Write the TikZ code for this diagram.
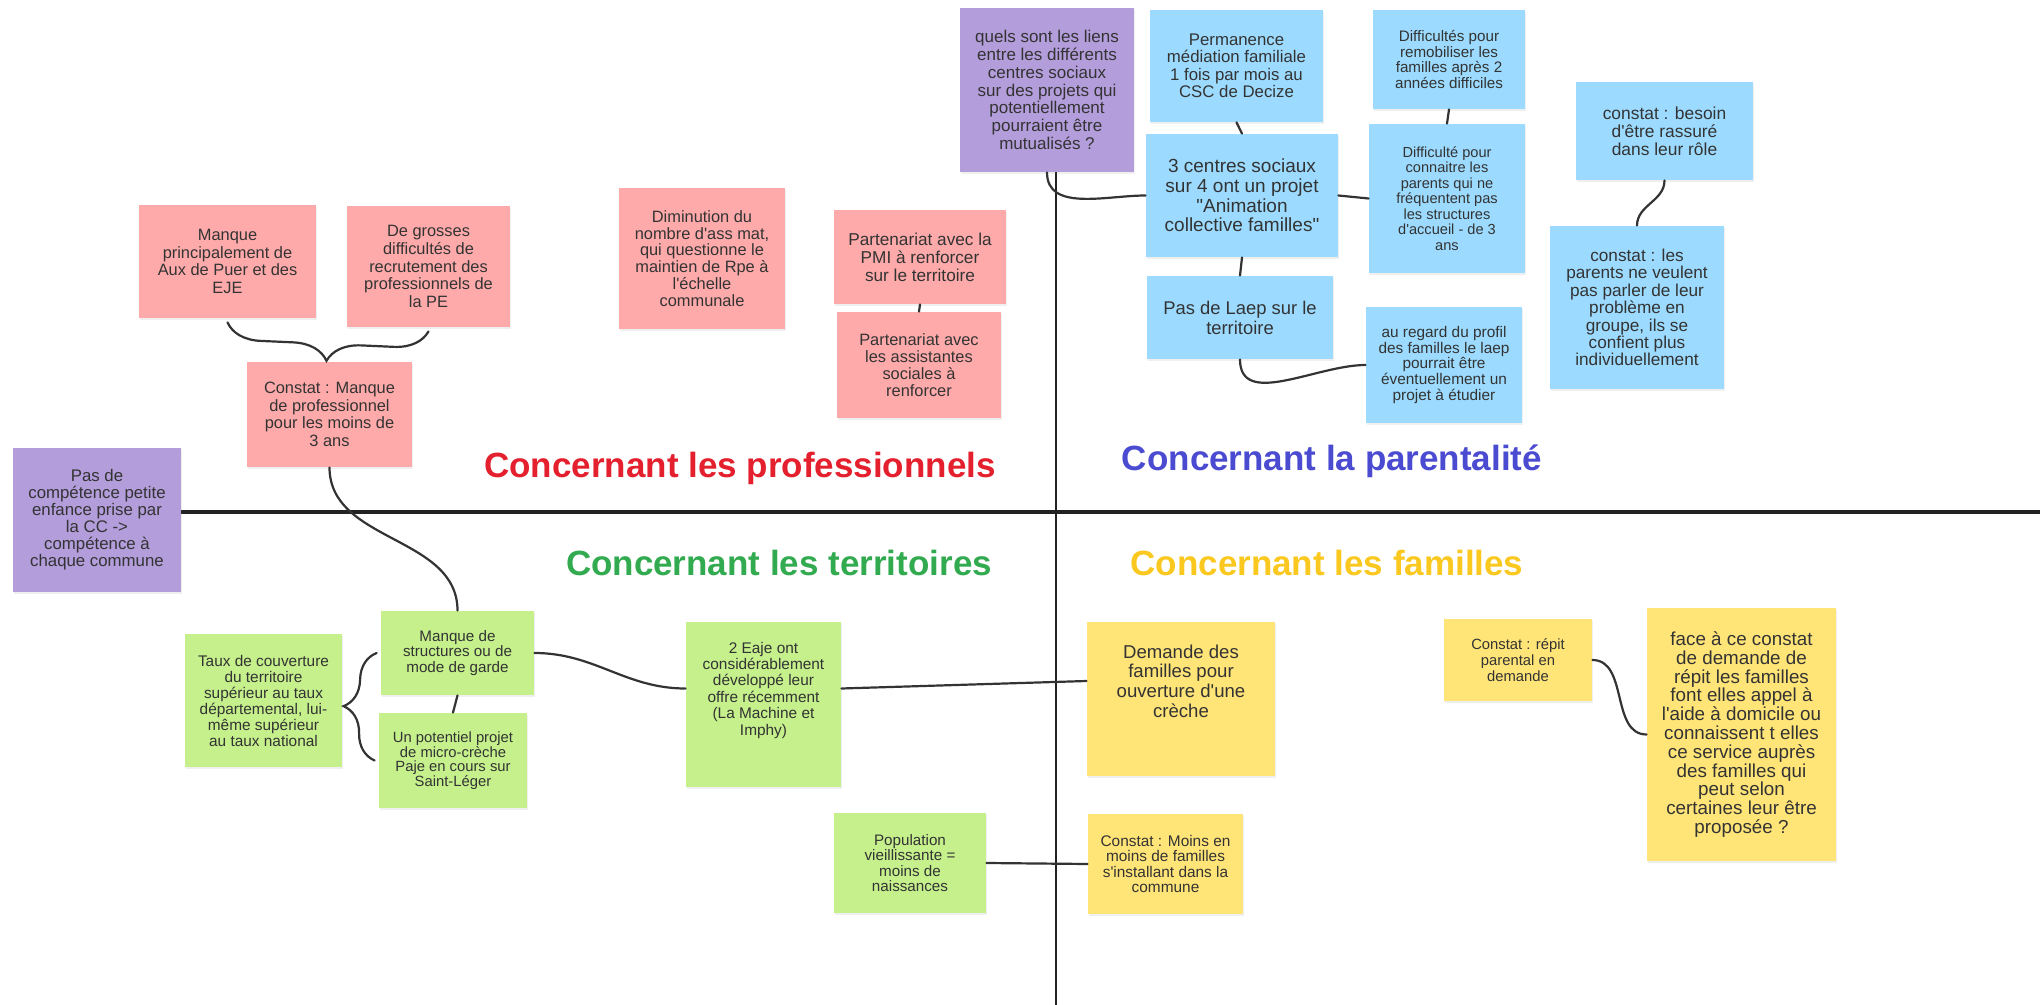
\documentclass[tikz,border=0pt]{standalone}
\usepackage{fontspec}
\setmainfont{Liberation Sans}[Ligatures=TeXOff]
\usetikzlibrary{decorations.pathreplacing,shadows}

\definecolor{pinknote}{HTML}{FFAAAA}
\definecolor{purplenote}{HTML}{B39DDB}
\definecolor{bluenote}{HTML}{9CDBFF}
\definecolor{greennote}{HTML}{C5F08C}
\definecolor{yellownote}{HTML}{FFE478}
\definecolor{inkgray}{HTML}{333333}
\definecolor{axisgray}{HTML}{222222}
\definecolor{headred}{HTML}{E5202E}
\definecolor{headblue}{HTML}{4B4BD2}
\definecolor{headgreen}{HTML}{32AA50}
\definecolor{headyellow}{HTML}{FAC81E}

\begin{document}
\begin{tikzpicture}[x=0.5pt,y=-0.5pt,
	note/.style={inner sep=0pt, align=center, text=inkgray,
		drop shadow={shadow xshift=0.5pt, shadow yshift=-0.8pt, opacity=0.12}},
	pinkbox/.style={note, fill=pinknote},
	purplebox/.style={note, fill=purplenote},
	bluebox/.style={note, fill=bluenote},
	greenbox/.style={note, fill=greennote},
	yellowbox/.style={note, fill=yellownote},
	fs/.style n args={2}{font=\fontsize{#1}{#2}\selectfont},
	link/.style={draw=inkgray, line width=1.1pt, line cap=round},
	brc/.style={link, decorate, decoration={brace, amplitude=#1}},
	head/.style={anchor=base, font=\fontsize{17.5}{21}\selectfont\bfseries}]

	\fill[white] (0,0) rectangle (2040,1005);
	\useasboundingbox (0,0) rectangle (2040,1005);

	% Draw axes
	\draw[line width=1.3pt, draw=axisgray] (1056,10) -- (1056,1005);
	\draw[line width=1.6pt, draw=axisgray] (100,512) -- (2040,512);

	% Quarter titles
	\node[head, text=headred] (hprof) at (740,477.5) {Concernant les professionnels};
	\node[head, text=headblue] (hpar) at (1332,471) {Concernant la parentalité};
	\node[head, text=headgreen] (hterr) at (779,575) {Concernant les territoires};
	\node[head, text=headyellow] (hfam) at (1327,575) {Concernant les familles};

	% Professionnels
	\node[pinkbox, fs={8.2}{8.8}, minimum width=88.5pt, minimum height=56.5pt] (m1) at (227.5,261.5) {Manque\\principalement de\\Aux de Puer et des\\EJE};
	\node[pinkbox, fs={8.2}{8.8}, minimum width=81.5pt, minimum height=60.5pt] (m2) at (428.5,266.5) {De grosses\\difficultés de\\recrutement des\\professionnels de\\la PE};
	\node[pinkbox, fs={8.2}{8.8}, minimum width=82.5pt, minimum height=52.5pt] (cm) at (329.5,414.5) {Constat : Manque\\de professionnel\\pour les moins de\\3 ans};
	\node[pinkbox, fs={8.2}{8.4}, minimum width=83pt, minimum height=70.5pt] (dim) at (702,258.5) {Diminution du\\nombre d'ass mat,\\qui questionne le\\maintien de Rpe à\\l'échelle\\communale};
	\node[pinkbox, fs={8.6}{9}, minimum width=86pt, minimum height=47pt] (pmi) at (920,257) {Partenariat avec la\\PMI à renforcer\\sur le territoire};
	\node[pinkbox, fs={8.2}{8.4}, minimum width=82pt, minimum height=53pt] (ass) at (919,365) {Partenariat avec\\les assistantes\\sociales à\\renforcer};

	% Purple questions
	\node[purplebox, fs={8.5}{8.9}, minimum width=87pt, minimum height=82pt] (liens) at (1047,90) {quels sont les liens\\entre les différents\\centres sociaux\\sur des projets qui\\potentiellement\\pourraient être\\mutualisés ?};
	\node[purplebox, fs={8.4}{8.5}, minimum width=84pt, minimum height=72pt] (cc) at (97,520) {Pas de\\compétence petite\\enfance prise par\\la CC ->\\compétence à\\chaque commune};

	% Parentalite
	\node[bluebox, fs={8.4}{8.7}, minimum width=86.5pt, minimum height=56pt] (perm) at (1236.5,66) {Permanence\\médiation familiale\\1 fois par mois au\\CSC de Decize};
	\node[bluebox, fs={7.6}{7.7}, minimum width=76pt, minimum height=49.5pt] (remob) at (1449,59.5) {Difficultés pour\\remobiliser les\\familles après 2\\années difficiles};
	\node[bluebox, fs={9.5}{9.8}, minimum width=96pt, minimum height=61.5pt] (acf) at (1242,195.5) {3 centres sociaux\\sur 4 ont un projet\\"Animation\\collective familles"};
	\node[bluebox, fs={7.3}{7.8}, minimum width=78pt, minimum height=74.5pt] (conn) at (1447,198.5) {Difficulté pour\\connaitre les\\parents qui ne\\fréquentent pas\\les structures\\d'accueil - de 3\\ans};
	\node[bluebox, fs={9.2}{10}, minimum width=93pt, minimum height=41.5pt] (laep) at (1240,317.5) {Pas de Laep sur le\\territoire};
	\node[bluebox, fs={7.7}{7.8}, minimum width=78pt, minimum height=58pt] (regard) at (1444,365) {au regard du profil\\des familles le laep\\pourrait être\\éventuellement un\\projet à étudier};
	\node[bluebox, fs={8.7}{9}, minimum width=88.5pt, minimum height=49pt] (rass) at (1664.5,131) {constat : besoin\\d'être rassuré\\dans leur rôle};
	\node[bluebox, fs={8.6}{8.7}, minimum width=87pt, minimum height=81.5pt] (indiv) at (1637,307.5) {constat : les\\parents ne veulent\\pas parler de leur\\problème en\\groupe, ils se\\confient plus\\individuellement};

	% Territoires
	\node[greenbox, fs={7.6}{7.6}, minimum width=76.5pt, minimum height=42pt] (struct) at (457.5,653) {Manque de\\structures ou de\\mode de garde};
	\node[greenbox, fs={7.4}{7.3}, minimum width=74pt, minimum height=47.5pt] (micro) at (453,760.5) {Un potentiel projet\\de micro-crèche\\Paje en cours sur\\Saint-Léger};
	\node[greenbox, fs={7.7}{8}, minimum width=78.5pt, minimum height=66.5pt] (taux) at (263.5,700.5) {Taux de couverture\\du territoire\\supérieur au taux\\départemental, lui-\\même supérieur\\au taux national};
	\node[greenbox, fs={7.7}{8.2}, minimum width=77.5pt, minimum height=82.5pt, text depth=16pt] (eaje) at (763.5,704.5) {2 Eaje ont\\considérablement\\développé leur\\offre récemment\\(La Machine et\\Imphy)};
	\node[greenbox, fs={7.6}{7.8}, minimum width=76pt, minimum height=50pt] (pop) at (910,863) {Population\\vieillissante =\\moins de\\naissances};

	% Familles
	\node[yellowbox, fs={9.3}{9.8}, minimum width=94pt, minimum height=77pt, text depth=18pt] (creche) at (1181,699) {Demande des\\familles pour\\ouverture d'une\\crèche};
	\node[yellowbox, fs={7.7}{7.6}, minimum width=77.5pt, minimum height=50pt] (moins) at (1165.5,864) {Constat : Moins en\\moins de familles\\s'installant dans la\\commune};
	\node[yellowbox, fs={7.4}{7.9}, minimum width=74pt, minimum height=41pt] (repit) at (1518,660) {Constat : répit\\parental en\\demande};
	\node[yellowbox, fs={9.4}{9.4}, minimum width=94.5pt, minimum height=126.5pt] (aide) at (1741.5,734.5) {face à ce constat\\de demande de\\répit les familles\\font elles appel à\\l'aide à domicile ou\\connaissent t elles\\ce service auprès\\des familles qui\\peut selon\\certaines leur être\\proposée ?};

	% Links
	\draw[brc=17pt] ([yshift=-2pt]m2.south) -- ([yshift=-2pt]m1.south);
	\draw[link] (pmi.south) -- (ass.north);
	\draw[link] (cm.south) to[out=-90,in=90] (struct.north);
	\draw[brc=16pt] ([xshift=-2pt]micro.west) -- ([xshift=-2pt]struct.west);
	\draw[link] (struct.south) -- (micro.north);
	\draw[link] (struct.east) to[out=0,in=180] ([yshift=8pt]eaje.west);
	\draw[link] ([yshift=8pt]eaje.east) -- ([yshift=9pt]creche.west);
	\draw[link] (pop.east) -- (moins.west);
	\draw[link] (repit.east) to[out=0,in=180] (aide.west);
	\draw[link] (liens.south) to[out=-90,in=180] (acf.west);
	\draw[link] (perm.south) -- (acf.north);
	\draw[link] (acf.east) -- (conn.west);
	\draw[link] (remob.south) -- (conn.north);
	\draw[link] (acf.south) -- (laep.north);
	\draw[link] (laep.south) to[out=-90,in=180] (regard.west);
	\draw[link] (rass.south) to[out=-90,in=90] (indiv.north);

\end{tikzpicture}
\end{document}
